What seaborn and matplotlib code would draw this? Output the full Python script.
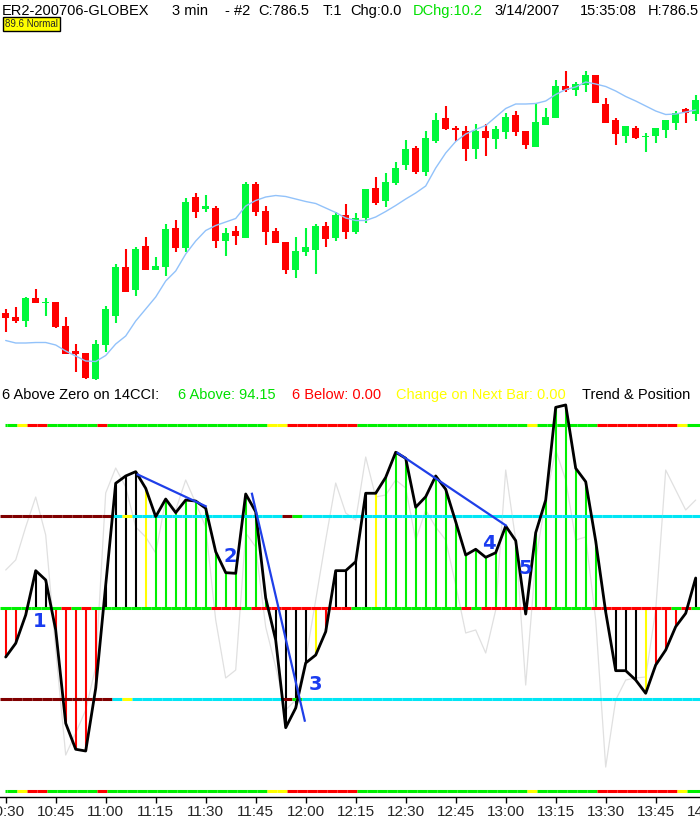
import numpy as np
import pandas as pd
import matplotlib
matplotlib.use("Agg")
import matplotlib.pyplot as plt
import seaborn as sns

# ---------------- data ----------------
time_labels = ["10:30", "10:45", "11:00", "11:15", "11:30", "11:45", "12:00", "12:15",
               "12:30", "12:45", "13:00", "13:15", "13:30", "13:45", "14:00"]

opens = [765.2, 764.8, 764.4, 766.7, 766.2, 766.3, 763.9, 761.4, 761.2, 758.6,
         762.0, 764.9, 769.8, 767.5, 771.9, 769.5, 769.8, 773.7, 771.7, 776.8,
         775.6, 775.7, 772.4, 773.4, 772.7, 778.1, 775.4, 773.4, 772.3, 769.5,
         771.3, 771.5, 773.9, 772.7, 775.0, 773.3, 774.7, 777.7, 776.4, 778.2,
         780.0, 781.7, 779.3, 782.4, 784.7, 783.7, 783.4, 781.6, 783.4, 782.6,
         783.3, 785.0, 783.4, 781.8, 784.0, 784.7, 787.9, 787.5, 788.0, 789.0,
         786.1, 784.5, 782.9, 783.7, 782.8, 782.9, 783.5, 784.2, 785.6, 785.1]
closes = [764.7, 764.4, 766.7, 766.2, 766.3, 763.8, 761.1, 761.1, 758.7, 762.1,
          765.6, 769.8, 767.3, 771.6, 769.5, 769.9, 773.6, 771.7, 776.3, 775.3,
          775.9, 772.4, 773.2, 772.9, 778.1, 775.3, 773.3, 772.2, 769.5, 771.4,
          771.8, 773.9, 772.6, 775.0, 773.3, 774.7, 777.6, 776.2, 778.3, 779.7,
          781.6, 779.3, 782.7, 784.5, 783.6, 783.5, 781.6, 783.4, 782.7, 783.6,
          784.8, 783.3, 782.0, 784.3, 784.8, 787.9, 787.5, 788.1, 789.0, 786.2,
          784.2, 783.1, 783.9, 782.7, 782.9, 783.7, 784.5, 785.2, 785.2, 786.5]
highs = [765.6, 765.8, 766.8, 767.6, 766.7, 766.3, 764.8, 762.1, 761.2, 762.5,
         765.9, 770.1, 771.6, 771.8, 772.8, 770.8, 774.1, 774.5, 776.7, 777.2,
         777.0, 775.9, 773.7, 773.9, 778.3, 778.3, 775.9, 773.7, 772.3, 772.8,
         773.7, 774.1, 774.3, 775.3, 776.1, 775.2, 777.6, 778.8, 779.2, 780.3,
         782.5, 781.9, 783.4, 785.2, 785.9, 783.9, 783.9, 784.1, 784.1, 783.9,
         785.2, 785.4, 783.4, 786.2, 785.7, 788.5, 789.4, 788.3, 789.4, 789.0,
         786.7, 784.7, 783.9, 783.9, 783.2, 783.7, 784.5, 785.4, 785.7, 787.0]
lows = [763.3, 764.2, 763.8, 766.2, 764.9, 763.7, 761.1, 759.3, 758.6, 758.5,
        761.3, 764.2, 767.3, 766.9, 769.5, 769.5, 768.9, 771.3, 771.3, 774.7,
        775.3, 771.7, 770.9, 772.0, 772.7, 774.9, 772.0, 772.2, 769.1, 768.7,
        770.9, 769.1, 771.8, 772.4, 772.6, 773.1, 774.2, 776.0, 775.8, 778.0,
        779.5, 779.1, 778.9, 782.2, 783.5, 782.4, 780.4, 780.6, 780.9, 781.6,
        782.6, 782.9, 781.6, 781.8, 784.0, 784.7, 787.3, 786.9, 787.3, 786.2,
        784.2, 782.0, 782.2, 782.6, 781.3, 782.2, 782.7, 783.5, 784.2, 784.4]
moving_avg = [762.45, 762.2, 762.2, 762.25, 762.25, 762.0, 761.4, 760.9, 760.4, 760.35,
              760.95, 762.1, 762.9, 764.4, 765.6, 766.8, 768.4, 769.4, 771.1, 772.4,
              773.45, 773.95, 774.3, 774.65, 775.9, 776.45, 776.8, 776.95, 776.85, 776.6,
              776.35, 776.15, 775.7, 775.25, 774.7, 774.45, 774.45, 774.8, 775.35, 775.95,
              776.6, 777.2, 777.9, 779.7, 781.2, 782.35, 783.1, 783.55, 783.95, 784.8,
              785.65, 786.1, 786.1, 786.15, 786.4, 787.05, 787.55, 787.8, 788.3, 788.1,
              787.85, 787.4, 786.85, 786.4, 785.9, 785.4, 785.05, 785.1, 785.3, 785.5]

cci14 = [-53.6, -38.6, -7.7, 40.8, 30.6, -24.0, -126.0, -154.4, -156.3, -87.8,
         25.1, 136.3, 144.3, 149.0, 130.8, 99.8, 119.1, 104.2, 118.0, 116.9,
         109.0, 61.5, 38.6, 37.9, 124.6, 105.2, 10.9, -35.0, -130.8, -109.3,
         -60.1, -51.4, -25.9, 40.8, 40.8, 50.6, 125.4, 125.4, 142.8, 170.2,
         163.6, 110.1, 121.6, 144.3, 129.7, 94.3, 57.9, 64.2, 55.4, 60.4,
         89.6, 73.6, -6.6, 82.3, 118.0, 219.3, 221.9, 152.7, 138.0, 73.2,
         -4.4, -68.5, -68.5, -78.7, -93.2, -62.3, -45.9, -20.4, -5.8, 32.8]
cci6 = [41.5, 52.5, 88.5, 121.3, 79.8, -45.9, -160.7, -136.6, -111.5, -64.5,
        125.7, 153.0, 132.2, 88.5, 77.6, 60.1, 118.0, 107.1, 139.9, 114.8,
        88.5, -13.1, -76.5, -67.8, 82.0, 66.7, -20.8, -64.5, -111.5, -100.5,
        -56.8, 8.7, 74.3, 136.6, 103.8, 96.2, 165.0, 121.3, 123.5, 139.9,
        131.1, 74.3, 107.1, 88.5, 74.3, 25.1, -27.3, -24.0, -49.2, -2.2,
        150.8, 74.3, -84.2, 52.5, 118.0, 172.7, 139.9, 74.3, 77.6, -13.1,
        -173.8, -100.5, -78.7, -76.5, -75.4, -2.2, 150.8, 129.0, 107.1, 118.0]

# per-bar state codes (G green, R red, Y yellow, K black, D dark red, C cyan)
hist_codes = ("RRRKK" "RRRRR" "KKKKY" "GGGGGGGGGGGG" "KKKKYR" "KKKKY"
              "GGGGGGGGGGGGGG" "K" "GGGGGGG" "KKKKY" "RRRRK")
trend_codes = ("GGYRR" "GGGGG" "R" "GGGGGGGGGGGGGGGG" "YY" "RRRRRRR"
               "GGGGGGGGGGGGGGGGG" "Y" "GGGGGG" "RRRRRRRR" "Y" "G")
zero_codes = ("GGGGGG" "R" "G" "R" "GGGGGGGGGGGG" "RRR" "G" "RRRRRRRRRR"
              "GGGGGGGGGGG" "R" "G" "RRRRRRR" "GGGG" "RRRRRRRR" "G" "R" "G")
band100_codes = ("DDDDDDDDDDD" "C" "Y" "CCCCCCCCCCCCCCC" "D" "G" + "C" * 40)

trend_lines = [((13.1, 146.4), (20.1, 110.7)),
               ((24.6, 126.0), (29.93, -124.3)),
               ((39.1, 170.2), (50.1, 89.6))]
wave_labels = ["1", "2", "3", "4", "5"]
wave_pos = [(3.36, -14.9), (22.5, 56.8), (31.0, -83.1), (48.33, 70.7), (52.0, 43.4)]

# ---------------- style ----------------
sns.set_style("white")
plt.rcParams["font.family"] = ["Liberation Sans", "DejaVu Sans"]

GREEN_C = "#00f83a"
RED_C = "#ff0000"
cmap = {"G": "#00f000", "R": "#ff0000", "Y": "#ffff00", "K": "#000000",
        "D": "#800000", "C": "#00e6f5"}

W, H = 700, 819
fig = plt.figure(figsize=(W / 100, H / 100), dpi=100)


def px_box(x0, y0, x1, y1):
    return [x0 / W, 1 - y1 / H, (x1 - x0) / W, (y1 - y0) / H]


XL = (-0.57, 70.43)
n = len(opens)
bars = np.arange(n)
df = pd.DataFrame({"bar": bars, "open": opens, "high": highs, "low": lows,
                   "close": closes, "ma": moving_avg, "cci14": cci14, "cci6": cci6})

# ---------------- price panel ----------------
ax_p = fig.add_axes(px_box(0, 40, 710, 390))
o = df["open"].values
c = df["close"].values
col = np.where(c >= o, GREEN_C, RED_C)
ax_p.vlines(bars, df["low"], df["high"], colors=col, lw=1.5, zorder=2)
ax_p.bar(bars, np.maximum(np.abs(c - o), 0.15), bottom=np.minimum(o, c),
         width=0.7, color=col, linewidth=0, zorder=3)
sns.lineplot(data=df, x="bar", y="ma", ax=ax_p, color="#92c2fa", lw=1.0,
             estimator=None, sort=False, legend=False, zorder=4)
ax_p.set_xlim(*XL)
ax_p.set_ylim(757.5, 792.5)
ax_p.axis("off")

# ---------------- CCI panel ----------------
ax_c = fig.add_axes(px_box(0, 403, 710, 797))
sns.lineplot(data=df, x="bar", y="cci6", ax=ax_c, color="#e0e0e0", lw=0.9,
             estimator=None, sort=False, legend=False, zorder=1)
ax_c.vlines(bars, 0, df["cci14"], colors=[cmap[k] for k in hist_codes],
            lw=1.5, zorder=2)


def band(level, codes, off, start):
    for i, k in enumerate(codes):
        a = start if i == 0 else i + off - 1
        b = XL[1] if i == len(codes) - 1 else i + off
        lc = ax_c.hlines(level, a, b, colors=cmap[k], lw=2.2, zorder=3)
        lc.set_capstyle("butt")


band(200, trend_codes, 0.13, -0.07)
band(-200, trend_codes, 0.13, -0.07)
band(100, band100_codes, 0.63, XL[0])
band(-100, band100_codes, 0.63, XL[0])
band(0, zero_codes, 0.5, XL[0])

sns.lineplot(data=df, x="bar", y="cci14", ax=ax_c, color="black", lw=2.0,
             estimator=None, sort=False, legend=False, zorder=4)

for (p0, p1) in trend_lines:
    ax_c.plot([p0[0], p1[0]], [p0[1], p1[1]], color="#1f3fe8", lw=1.6,
              zorder=5, solid_capstyle="butt")
for lab, (xx, yy) in zip(wave_labels, wave_pos):
    ax_c.text(xx, yy, lab, color="#1a3cf0", fontsize=14, fontweight="bold",
              family="DejaVu Sans", ha="center", va="center", zorder=6)

ax_c.set_xlim(*XL)
ax_c.set_ylim(-206.56, 224.04)
ax_c.set_xticks(range(0, 71, 5))
ax_c.set_xticklabels(time_labels)
ax_c.set_yticks([])
ax_c.set_xlabel("")
ax_c.set_ylabel("")
for s in ["top", "left", "right"]:
    ax_c.spines[s].set_visible(False)
ax_c.spines["bottom"].set_color("black")
ax_c.spines["bottom"].set_linewidth(1.0)
ax_c.tick_params(axis="x", direction="out", length=4, width=1, color="black",
                 labelsize=11, pad=1.5, bottom=True)

# ---------------- header texts ----------------
hy = 1 - 11 / H
header = [(2, "ER2-200706-GLOBEX", "black"), (172, "3 min", "black"),
          (225, "- #2", "black"), (258, "C:786.5", "black"), (323, "T:1", "black"),
          (350, "Chg:0.0", "black"), (413, "DChg:10.2", "#00e000"),
          (494, "3/14/2007", "black"), (580, "15:35:08", "black"),
          (648, "H:786.5", "black")]
for x, s, cl in header:
    fig.text(x / W, hy, s, color=cl, fontsize=10.5, va="center", ha="left")

fig.text(5 / W, 1 - 24 / H, "89.6 Normal", fontsize=7, va="center", ha="left",
         bbox=dict(boxstyle="square,pad=0.25", fc="#ffff00", ec="black", lw=1))

cy = 1 - 395 / H
cci_header = [(2, "6 Above Zero on 14CCI:", "black"), (178, "6 Above: 94.15", "#00e000"),
              (292, "6 Below: 0.00", "#ff0000"),
              (396, "Change on Next Bar: 0.00", "#ffff00"),
              (582, "Trend & Position", "black")]
for x, s, cl in cci_header:
    fig.text(x / W, cy, s, color=cl, fontsize=10.5, va="center", ha="left")

fig.savefig("out.png", dpi=100, facecolor="white")
